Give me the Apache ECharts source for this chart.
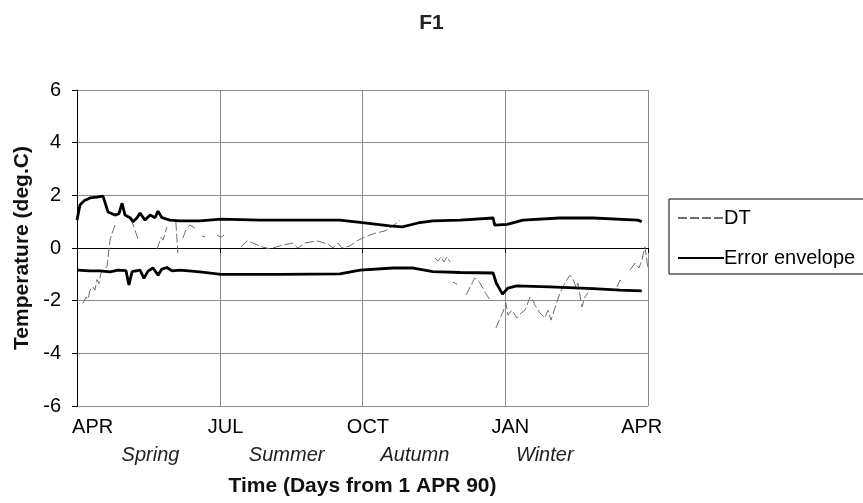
<!DOCTYPE html>
<html>
<head>
<meta charset="utf-8">
<script src="https://cdn.jsdelivr.net/npm/echarts@6/dist/echarts.min.js"></script>
<style>
  html, body { margin: 0; padding: 0; background: #fff; }
  #chart { width: 863px; height: 503px; }
</style>
</head>
<body>
<div id="chart"></div>
<script>
// x = days from 1 APR 90, y = deg C
const monthLabels = ['APR', 'JUL', 'OCT', 'JAN', 'APR'];
const monthLabelDays = [10, 95, 186, 277, 361];
const seasonLabels = ['Spring', 'Summer', 'Autumn', 'Winter'];
const seasonDays = [47, 134, 216, 299];
const yTicks = [-6, -4, -2, 0, 2, 4, 6];

const envelopeUpper = [
  [0, 1.06], [1.9, 1.63], [4.5, 1.79], [8.3, 1.9], [12.8, 1.93], [16.6, 1.97],
  [19.8, 1.37], [24.3, 1.25], [26.8, 1.3], [28.8, 1.7], [30.7, 1.25], [33.9, 1.15],
  [35.8, 1.0], [38.4, 1.15], [40.3, 1.33], [43.5, 1.06], [46.7, 1.25], [49.9, 1.15],
  [51.8, 1.4], [54.3, 1.15], [59.4, 1.06], [65.8, 1.03], [78.6, 1.03], [92, 1.1],
  [117, 1.06], [142.5, 1.06], [168, 1.06], [181, 0.97], [200, 0.84], [208, 0.8],
  [218, 0.95], [227.5, 1.03], [245, 1.06], [266, 1.14], [267, 0.87], [275, 0.9],
  [285, 1.06], [308.6, 1.14], [330, 1.14], [358.5, 1.06], [361, 1.0]
];

const envelopeLower = [
  [0, -0.84], [8.3, -0.87], [14.7, -0.87], [21.1, -0.91], [26.2, -0.84], [31.3, -0.86],
  [33.2, -1.4], [35.2, -0.9], [40.3, -0.84], [42.8, -1.15], [45.4, -0.88], [48.6, -0.76],
  [51.8, -1.03], [54.3, -0.8], [57.5, -0.74], [60.7, -0.87], [65.8, -0.84], [78.6, -0.91],
  [92, -1.0], [130, -1.0], [168, -0.98], [181, -0.84], [202, -0.76], [215, -0.76],
  [227.5, -0.9], [245, -0.93], [266, -0.95], [268, -1.33], [272, -1.75], [275.5, -1.52],
  [281, -1.44], [302, -1.48], [330, -1.54], [347, -1.6], [361, -1.63]
];

const dtValues = [
  [3.8, -2.1], [5.8, -1.86], [7, -1.95], [8.3, -1.6], [10.2, -1.48], [11.5, -1.6],
  [12.8, -1.2], [14, -1.35], [15.3, -0.95], [17.3, -0.84], [19.2, -0.7], [21.1, 0.3],
  [22.4, 0.56], [24.3, 0.87], [25, null],
  [34.5, 1.1], [36.4, 0.8], [39.6, 0.23], [45, null],
  [51.1, -0.05], [53.7, 0.4], [55, 0.3], [57.5, 0.8], [60, null],
  [63.2, 1.0], [64.5, -0.2], [66, null],
  [67.7, 0.38], [69.7, 0.7], [72.2, 0.87], [75.4, 0.76], [78, null],
  [79.9, 0.46], [81.8, 0.42], [85, null],
  [89.5, 0.5], [92, 0.4], [94, 0.5], [100, null],
  [104.8, 0.04], [108.7, 0.27], [112.5, 0.19], [118.3, 0.04], [123.4, -0.03],
  [129.8, 0.08], [137.4, 0.19], [141.3, 0], [145.7, 0.19], [153.4, 0.27], [160.4, 0.15],
  [163.6, 0], [166.8, 0.19], [169.4, 0], [174.5, 0.08], [179, 0.27], [184.1, 0.42],
  [190.5, 0.56], [196.9, 0.65], [202, 0.84], [206.5, 1.06], [215, null],
  [228.8, -0.38], [230.7, -0.5], [232.7, -0.34], [234.6, -0.53], [236.5, -0.34], [238.4, -0.53], [239.5, null],
  [240.3, -1.3], [242.9, -1.37], [245, null],
  [248.7, -1.79], [251.8, -1.41], [254.4, -1.14], [257.6, -1.33], [260.8, -1.67], [264, -1.98], [266, null],
  [267.8, -3.04], [270.4, -2.66], [272.3, -2.43], [274.2, -2.09], [275.5, -2.55], [278, -2.36],
  [281.2, -2.66], [283.8, -2.47], [286.4, -2.36], [289.6, -1.86], [291.5, -1.98], [292.7, -2.17],
  [296, -2.47], [299.1, -2.66], [301, -2.36], [303, -2.74], [305.5, -2.28], [308.7, -1.71],
  [311.9, -1.33], [315.1, -1.03], [317, -1.15], [319, -1.52], [320.2, -1.33], [322.8, -2.24],
  [324.7, -1.86], [326.6, -1.7], [335, null],
  [345.2, -1.48], [347.1, -1.22], [349.6, -1.33], [351, null],
  [353.5, -0.84], [356.7, -0.57], [359.2, -0.76], [361.1, -0.46], [363, 0.04], [365, -0.76]
];

const FONT = '"Liberation Sans", Arial, sans-serif';
const chart = echarts.init(document.getElementById('chart'));

chart.setOption({
  animation: false,
  backgroundColor: '#fff',
  textStyle: { fontFamily: FONT, color: '#000' },
  title: {
    text: 'F1',
    left: 'center',
    top: 8,
    textStyle: { fontFamily: FONT, fontSize: 21, fontWeight: 'bold', color: '#222' }
  },
  legend: {
    orient: 'vertical',
    left: 669,
    top: 199,
    padding: [9, 12, 6, 8],
    itemGap: 20,
    itemWidth: 46,
    itemHeight: 14,
    borderColor: '#000',
    borderWidth: 1,
    borderRadius: 0,
    itemStyle: { opacity: 0 },
    data: ['DT', 'Error envelope'],
    textStyle: { fontFamily: FONT, fontSize: 20, color: '#000', padding: [0, 0, 0, -5] }
  },
  grid: { left: 77, right: 215, top: 90, bottom: 97 },
  xAxis: [
    {
      type: 'value',
      min: 0,
      max: 365,
      interval: 91.25,
      axisLine: { lineStyle: { color: '#000', width: 1 } },
      axisTick: { show: true, length: 5, lineStyle: { color: '#000' } },
      splitLine: { show: true, lineStyle: { color: '#8a8a8a', width: 1 } },
      axisLabel: {
        customValues: monthLabelDays,
        margin: 11,
        fontSize: 20,
        color: '#000',
        fontFamily: FONT,
        formatter: (v) => monthLabels[Math.round(v / 91.25)]
      },
      name: 'Time (Days from 1 APR 90)',
      nameLocation: 'middle',
      nameGap: 70,
      nameTextStyle: { fontFamily: FONT, fontSize: 21, fontWeight: 'bold', color: '#111' }
    },
    {
      type: 'value',
      min: 0,
      max: 365,
      position: 'bottom',
      offset: 30,
      axisLine: { show: false },
      axisTick: { show: false },
      splitLine: { show: false },
      axisLabel: {
        customValues: seasonDays,
        margin: 9,
        fontSize: 20,
        fontStyle: 'italic',
        color: '#222',
        fontFamily: FONT,
        formatter: (v) => seasonLabels[seasonDays.indexOf(v)]
      }
    }
  ],
  yAxis: {
    type: 'value',
    min: yTicks[0],
    max: yTicks[yTicks.length - 1],
    interval: 2,
    axisLine: { show: true, lineStyle: { color: '#000', width: 1 } },
    axisTick: { show: true, length: 5, lineStyle: { color: '#000' } },
    splitLine: { show: true, lineStyle: { color: '#8a8a8a', width: 1 } },
    axisLabel: { fontSize: 20, color: '#000', margin: 16, fontFamily: FONT },
    name: 'Temperature (deg.C)',
    nameLocation: 'middle',
    nameRotate: 90,
    nameGap: 42,
    nameTextStyle: { fontFamily: FONT, fontSize: 21, fontWeight: 'bold', color: '#111' }
  },
  series: [
    {
      name: 'DT',
      type: 'line',
      data: dtValues,
      symbol: 'none',
      connectNulls: false,
      lineStyle: { color: '#6e6e6e', width: 1, type: [9, 3] },
      itemStyle: { color: '#6e6e6e' },
      z: 2
    },
    {
      name: 'Error envelope',
      type: 'line',
      data: envelopeUpper,
      symbol: 'none',
      lineStyle: { color: '#000', width: 2.8 },
      itemStyle: { color: '#000' },
      z: 3
    },
    {
      name: 'Error envelope',
      type: 'line',
      data: envelopeLower,
      symbol: 'none',
      lineStyle: { color: '#000', width: 2.8 },
      itemStyle: { color: '#000' },
      z: 3
    }
  ]
});
</script>
</body>
</html>
